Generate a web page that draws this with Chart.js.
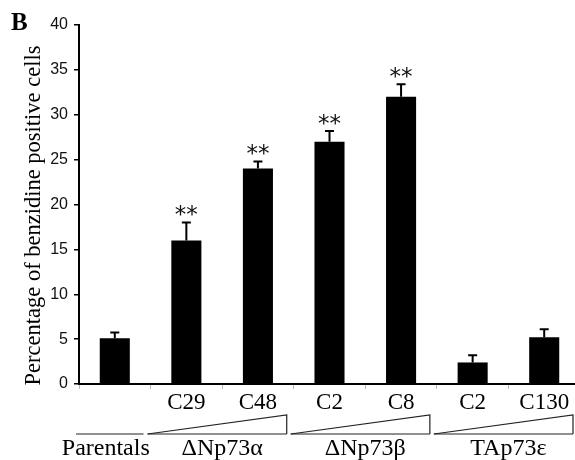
<!DOCTYPE html>
<html>
<head>
<meta charset="utf-8">
<script src="https://cdn.jsdelivr.net/npm/chart.js@4.4.1/dist/chart.umd.min.js"></script>
<style>
  html, body { margin: 0; padding: 0; background: #fff; overflow: hidden; }
  #wrap { width: 590px; height: 460px; }
</style>
</head>
<body>
<div id="wrap"><canvas id="benzChart" width="590" height="460"></canvas></div>
<script>
// values
const clones = ["", "C29", "C48", "C2", "C8", "C2", "C130"];
const positive = [5.1, 16.0, 24.0, 27.0, 32.0, 2.4, 5.2];
const errors = [0.65, 2.0, 0.8, 1.2, 1.4, 0.8, 0.9];
const stars = ["", "**", "**", "**", "**", "", ""];

const groupLabels = ["Parentals", "\u0394Np73\u03b1", "\u0394Np73\u03b2", "TAp73\u03b5"];
const groupFirst = [0, 1, 3, 5];
const groupLast = [0, 2, 4, 6];
const groupWedge = [false, true, true, true];

const yTicks = [0, 5, 10, 15, 20, 25, 30, 35, 40];

const serif = "'Liberation Serif', 'Times New Roman', serif";
const sans = "'Liberation Sans', Arial, sans-serif";

// error bars + significance marks
const errorBars = {
  id: "errorBars",
  afterDatasetsDraw(chart) {
    const { ctx, scales: { y } } = chart;
    const bars = chart.getDatasetMeta(0).data;
    ctx.save();
    ctx.strokeStyle = "#000";
    ctx.lineWidth = 2;
    bars.forEach((bar, i) => {
      const top = y.getPixelForValue(positive[i] + errors[i]);
      ctx.beginPath();
      ctx.moveTo(bar.x, bar.y);
      ctx.lineTo(bar.x, top);
      ctx.moveTo(bar.x - 4.5, top);
      ctx.lineTo(bar.x + 4.5, top);
      ctx.stroke();
      if (stars[i]) {
        ctx.fillStyle = "#111";
        ctx.font = "23px 'DejaVu Sans', sans-serif";
        ctx.textAlign = "center";
        ctx.textBaseline = "middle";
        ctx.fillText(stars[i], bar.x, top - 6);
      }
    });
    ctx.restore();
  }
};

// group lines / wedges under the axis, axis title and panel letter
const annotations = {
  id: "annotations",
  afterDraw(chart) {
    const { ctx, chartArea, scales: { x } } = chart;
    const base = chartArea.bottom + 50;
    const peak = chartArea.bottom + 31;
    ctx.save();
    ctx.strokeStyle = "#222";
    ctx.lineWidth = 1.2;
    for (let g = 0; g < groupLabels.length; g++) {
      const edgeL = x.getPixelForValue(groupFirst[g] - 0.5);
      const edgeR = x.getPixelForValue(groupLast[g] + 0.5);
      const left = edgeL - 3;
      const right = edgeR - 7;

      ctx.beginPath();
      ctx.moveTo(left, base);
      ctx.lineTo(right, base);
      ctx.stroke();

      if (groupWedge[g] === true) {
        ctx.beginPath();
        ctx.moveTo(left, base);
        ctx.lineTo(right, peak);
        ctx.lineTo(right, base);
        ctx.stroke();
      }

      const cx = groupWedge[g] ? (edgeL + edgeR) / 2 : (left + right) / 2 - 4;
      ctx.fillStyle = "#000";
      ctx.font = "24px " + serif;
      ctx.textAlign = "center";
      ctx.textBaseline = "alphabetic";
      ctx.fillText(groupLabels[g], cx, chartArea.bottom + 71);
    }

    // y axis title
    ctx.save();
    ctx.translate(chartArea.left - 45, (chartArea.top + chartArea.bottom) / 2 + 11);
    ctx.rotate(-Math.PI / 2);
    ctx.font = "22.5px " + serif;
    ctx.textAlign = "center";
    ctx.textBaseline = "middle";
    ctx.fillStyle = "#000";
    ctx.fillText("Percentage of benzidine positive cells", 0, 0);
    ctx.restore();

    ctx.font = "bold 25px " + serif;
    ctx.textAlign = "left";
    ctx.textBaseline = "alphabetic";
    ctx.fillStyle = "#000";
    ctx.fillText("B", 11, 30);
    ctx.restore();
  }
};

const chart = new Chart(document.getElementById("benzChart"), {
  type: "bar",
  data: {
    labels: clones,
    datasets: [{
      data: positive,
      backgroundColor: "#000",
      borderWidth: 0,
      barPercentage: 0.42,
      categoryPercentage: 1
    }]
  },
  options: {
    responsive: false,
    animation: false,
    events: [],
    layout: { padding: { left: 0, top: 25, right: 10, bottom: 0 } },
    plugins: {
      legend: { display: false },
      tooltip: { enabled: false }
    },
    scales: {
      x: {
        offset: true,
        border: { color: "#000", width: 2 },
        grid: {
          offset: true,
          drawOnChartArea: false,
          tickLength: 5,
          color: "#bbb",
          lineWidth: 1
        },
        ticks: {
          color: "#000",
          font: { family: serif, size: 23 },
          padding: 0,
          maxRotation: 0,
          autoSkip: false
        },
        afterFit(scale) { scale.height = 76; }
      },
      y: {
        min: 0,
        max: 40,
        border: { color: "#000", width: 2 },
        grid: {
          drawOnChartArea: false,
          tickLength: 5,
          color: "#000",
          lineWidth: 1.5
        },
        afterBuildTicks(scale) {
          scale.ticks = yTicks.map(v => ({ value: v }));
        },
        ticks: {
          color: "#111",
          font: { family: sans, size: 16 },
          padding: 6
        },
        afterFit(scale) { scale.width = 79; }
      }
    }
  },
  plugins: [errorBars, annotations]
});
</script>
</body>
</html>
